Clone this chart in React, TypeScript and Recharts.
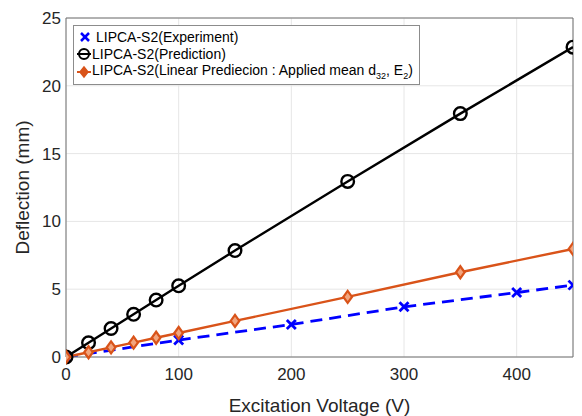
import { LineChart, Line, XAxis, YAxis, CartesianGrid, Label, ReferenceLine } from 'recharts';

// x values (V) and deflection (mm)
const predVoltage = [0, 20, 40, 60, 80, 100, 150, 250, 350, 450];
const predDeflection = [0, 1.05, 2.1, 3.15, 4.2, 5.25, 7.85, 12.95, 17.95, 22.85];

const linVoltage = [0, 20, 40, 60, 80, 100, 150, 250, 350, 450];
const linDeflection = [0, 0.35, 0.71, 1.06, 1.42, 1.77, 2.66, 4.43, 6.25, 7.97];

const expVoltage = [0, 100, 200, 300, 400, 450];
const expDeflection = [0, 1.25, 2.4, 3.7, 4.75, 5.3];

const xTicks = [0, 100, 200, 300, 400];
const yTicks = [0, 5, 10, 15, 20, 25];

const BLUE = '#0000FF';
const BLACK = '#000000';
const ORANGE = '#D95319';
const FONT = '"Liberation Sans", Arial, sans-serif';

const toRows = (xs: number[], ys: number[]) => xs.map((v, i) => ({ v, d: ys[i] }));

const predData = toRows(predVoltage, predDeflection);
const linData = toRows(linVoltage, linDeflection);
const expData = toRows(expVoltage, expDeflection);

function CrossDot(props: any) {
    const { cx, cy } = props;
    if (cx == null || cy == null) return null;
    const s = 4.5;
    return (
        <g stroke={BLUE} strokeWidth={2.8}>
            <line x1={cx - s} y1={cy - s} x2={cx + s} y2={cy + s} />
            <line x1={cx - s} y1={cy + s} x2={cx + s} y2={cy - s} />
        </g>
    );
}

function CircleDot(props: any) {
    const { cx, cy } = props;
    if (cx == null || cy == null) return null;
    return <circle cx={cx} cy={cy} r={6.3} fill="none" stroke={BLACK} strokeWidth={2.4} />;
}

function DiamondDot(props: any) {
    const { cx, cy } = props;
    if (cx == null || cy == null) return null;
    const s = 6;
    return (
        <path
            d={`M${cx},${cy - s}L${cx + s * 0.72},${cy}L${cx},${cy + s}L${cx - s * 0.72},${cy}Z`}
            fill="#f2a57e"
            stroke={ORANGE}
            strokeWidth={2.2}
        />
    );
}

function LegendBox() {
    const row = { display: 'flex', alignItems: 'center', height: 17.5, whiteSpace: 'nowrap' as const };
    return (
        <div
            style={{
                position: 'absolute',
                left: 73,
                top: 25,
                border: '1px solid #8c8c8c',
                background: '#fff',
                padding: '2px 6px 3px 3px',
                fontFamily: FONT,
                fontSize: 14,
                color: '#000',
            }}
        >
            <div style={row}>
                <svg width={16} height={14} style={{ marginRight: 3 }}>
                    <line x1={4} y1={3} x2={12} y2={11} stroke={BLUE} strokeWidth={2.5} />
                    <line x1={4} y1={11} x2={12} y2={3} stroke={BLUE} strokeWidth={2.5} />
                </svg>
                LIPCA-S2(Experiment)
            </div>
            <div style={row}>
                <svg width={14} height={14} style={{ marginRight: 1 }}>
                    <line x1={0} y1={7} x2={14} y2={7} stroke={BLACK} strokeWidth={2} />
                    <circle cx={7} cy={7} r={5} fill="none" stroke={BLACK} strokeWidth={2} />
                </svg>
                LIPCA-S2(Prediction)
            </div>
            <div style={row}>
                <svg width={14} height={14} style={{ marginRight: 1 }}>
                    <line x1={0} y1={7} x2={14} y2={7} stroke={ORANGE} strokeWidth={2} />
                    <path d="M7,2L11,7L7,12L3,7Z" fill={ORANGE} stroke={ORANGE} strokeWidth={1.5} />
                </svg>
                <span>
                    LIPCA-S2(Linear Prediecion : Applied mean d<sub style={{ fontSize: 9 }}>32</sub>, E
                    <sub style={{ fontSize: 9 }}>2</sub>)
                </span>
            </div>
        </div>
    );
}

export default function App() {
    const tickStyle = { fontSize: 17, fill: '#262626', fontFamily: FONT };
    return (
        <div style={{ position: 'absolute', left: 0, top: 0, width: 582, height: 416, background: '#fff' }}>
            <LineChart width={582} height={416} margin={{ top: 18, right: 9, bottom: 0, left: 0 }}>
                <CartesianGrid stroke="#e6e6e6" strokeWidth={1} />
                <XAxis
                    type="number"
                    dataKey="v"
                    domain={[0, 450]}
                    ticks={xTicks}
                    allowDataOverflow
                    height={59}
                    tickSize={0}
                    tickMargin={11}
                    tick={tickStyle}
                    stroke="#707070"
                >
                    <Label
                        value="Excitation Voltage (V)"
                        position="insideBottom"
                        offset={4}
                        style={{ fontSize: 19, fill: '#262626', fontFamily: FONT }}
                    />
                </XAxis>
                <YAxis
                    type="number"
                    domain={[0, 25]}
                    ticks={yTicks}
                    width={66}
                    tickSize={0}
                    tickMargin={5}
                    tick={tickStyle}
                    stroke="#707070"
                >
                    <Label
                        value="Deflection (mm)"
                        angle={-90}
                        position="insideLeft"
                        offset={22}
                        style={{ fontSize: 19, fill: '#262626', fontFamily: FONT, textAnchor: 'middle' }}
                    />
                </YAxis>
                <ReferenceLine y={25} stroke="#707070" />
                <ReferenceLine x={450} stroke="#707070" />
                <Line
                    data={expData}
                    dataKey="d"
                    stroke={BLUE}
                    strokeWidth={2.8}
                    strokeDasharray="12 7"
                    dot={<CrossDot />}
                    activeDot={false}
                    isAnimationActive={false}
                />
                <Line
                    data={predData}
                    dataKey="d"
                    stroke={BLACK}
                    strokeWidth={2.4}
                    dot={<CircleDot />}
                    activeDot={false}
                    isAnimationActive={false}
                />
                <Line
                    data={linData}
                    dataKey="d"
                    stroke={ORANGE}
                    strokeWidth={2.4}
                    dot={<DiamondDot />}
                    activeDot={false}
                    isAnimationActive={false}
                />
            </LineChart>
            <LegendBox />
        </div>
    );
}
